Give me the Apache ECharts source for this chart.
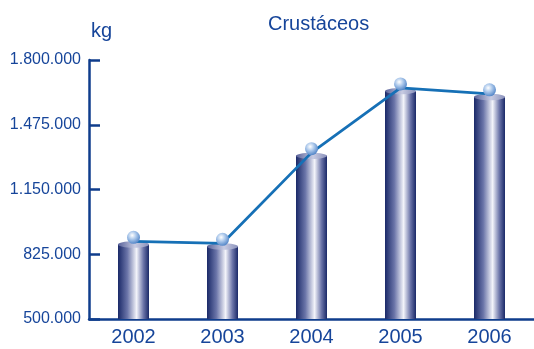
<!DOCTYPE html>
<html>
<head>
<meta charset="utf-8">
<script src="https://cdn.jsdelivr.net/npm/echarts@6/dist/echarts.min.js"></script>
<style>
  html, body { margin: 0; padding: 0; background: #fff; }
  #container { width: 534px; height: 349px; }
</style>
</head>
<body>
<div id="container"></div>
<script>
// Crustáceos, kg per year
const years = ['2002', '2003', '2004', '2005', '2006'];
const kilos = [890000, 880000, 1335000, 1660000, 1630000];
const yTicks = [500000, 825000, 1150000, 1475000, 1800000];

const textBlue = '#16459a';
const axisBlue = '#0f3d8c';
const lineBlue = '#1670b6';

let dom = document.getElementById('container');
let myChart = echarts.init(dom, null, { renderer: 'canvas' });

function fmt(v) {
    return String(v).replace(/\B(?=(\d{3})+(?!\d))/g, '.');
}

// cylinder body + top ellipse
function renderCylinder(params, api) {
    let top = api.coord([api.value(0), api.value(1)]);
    let base = api.coord([api.value(0), yTicks[0]]);
    let w = 31, ry = 3.2;
    let x = top[0] - w / 2;
    let y = top[1] + ry;
    return {
        type: 'group',
        children: [
            {
                type: 'rect',
                shape: { x: x, y: y, width: w, height: base[1] - y },
                style: {
                    fill: new echarts.graphic.LinearGradient(0, 0, 1, 0, [
                        { offset: 0, color: '#1a2968' },
                        { offset: 0.3, color: '#6a74a8' },
                        { offset: 0.6, color: '#f3f4fa' },
                        { offset: 0.82, color: '#6c75a9' },
                        { offset: 1, color: '#1a2968' }
                    ])
                }
            },
            {
                type: 'ellipse',
                shape: { cx: top[0], cy: y, rx: w / 2, ry: ry },
                style: {
                    fill: new echarts.graphic.LinearGradient(0, 0, 1, 0, [
                        { offset: 0, color: '#59629a' },
                        { offset: 0.55, color: '#c7cbe2' },
                        { offset: 1, color: '#8a91bb' }
                    ])
                }
            }
        ]
    };
}

let option = {
    animation: false,
    title: [
        {
            text: 'Crustáceos',
            left: 263,
            top: 9,
            textStyle: { color: textBlue, fontSize: 20, fontWeight: 'normal', fontFamily: 'Liberation Sans' }
        },
        {
            text: 'kg',
            left: 86,
            top: 16,
            textStyle: { color: textBlue, fontSize: 20, fontWeight: 'normal', fontFamily: 'Liberation Sans' }
        }
    ],
    grid: { left: 89, top: 60, bottom: 30, width: 448 },
    xAxis: {
        type: 'category',
        data: years,
        boundaryGap: true,
        axisLine: { lineStyle: { color: axisBlue, width: 2.5 } },
        axisTick: { inside: true, length: 6, lineStyle: { color: axisBlue, width: 2 } },
        axisLabel: { color: textBlue, fontSize: 20, margin: 8, fontFamily: 'Liberation Sans' }
    },
    yAxis: {
        type: 'value',
        min: yTicks[0],
        max: yTicks[yTicks.length - 1],
        interval: yTicks[1] - yTicks[0],
        axisLine: { show: true, lineStyle: { color: axisBlue, width: 2.5 } },
        axisTick: { show: true, inside: true, length: 11, lineStyle: { color: axisBlue, width: 2.5 } },
        splitLine: { show: false },
        axisLabel: {
            color: textBlue,
            fontSize: 16,
            margin: 8,
            fontFamily: 'Liberation Sans',
            formatter: fmt
        }
    },
    series: [
        {
            type: 'custom',
            data: kilos.map((v, i) => [i, v]),
            renderItem: renderCylinder,
            z: 2
        },
        {
            type: 'line',
            data: kilos,
            z: 3,
            lineStyle: { color: lineBlue, width: 2.8 },
            symbol: 'circle',
            symbolSize: 13,
            symbolOffset: [0, -4],
            itemStyle: {
                borderWidth: 0,
                color: new echarts.graphic.RadialGradient(0.4, 0.35, 0.7, [
                    { offset: 0, color: '#ffffff' },
                    { offset: 0.45, color: '#a9c6ea' },
                    { offset: 1, color: '#4a7fc4' }
                ])
            }
        }
    ]
};
myChart.setOption(option);
</script>
</body>
</html>
